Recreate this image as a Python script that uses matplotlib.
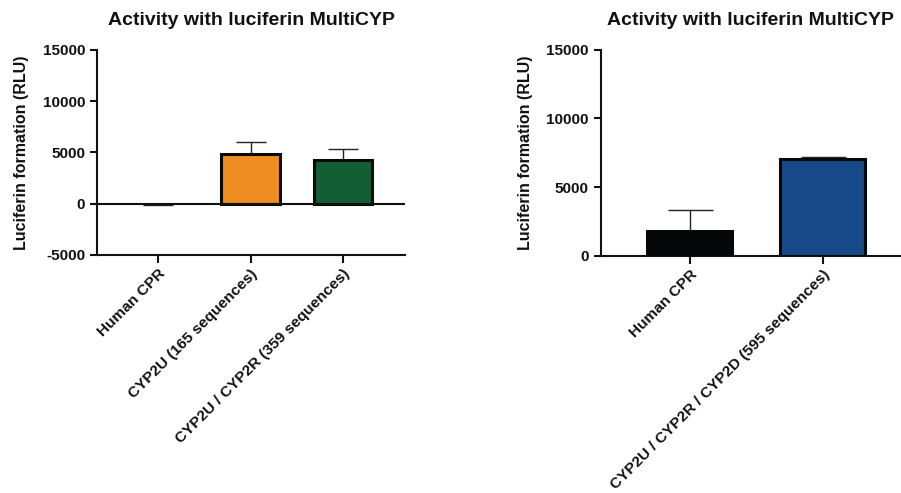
import numpy as np
import matplotlib
matplotlib.use("Agg")
import matplotlib.pyplot as plt

plt.rcParams['font.family'] = ['Liberation Sans', 'DejaVu Sans']
plt.rcParams['font.weight'] = 'bold'
plt.rcParams['axes.unicode_minus'] = False

# ---- data ----
title = "Activity with luciferin MultiCYP"
ylabel = "Luciferin formation (RLU)"

left_labels = ["Human CPR", "CYP2U (165 sequences)", "CYP2U / CYP2R (359 sequences)"]
left_means = [-40, 4850, 4250]
left_err = [60, 1200, 1080]
left_colors = ["#0a0c0c", "#ef8c22", "#135e34"]

right_labels = ["Human CPR", "CYP2U / CYP2R / CYP2D (595 sequences)"]
right_means = [1800, 7020]
right_err = [1530, 140]
right_colors = ["#050808", "#184a89"]

TXT = "#111111"


def style_axes(ax, yticks, ylim):
    for s in ["top", "right"]:
        ax.spines[s].set_visible(False)
    for s in ["left", "bottom"]:
        ax.spines[s].set_linewidth(1.5)
        ax.spines[s].set_color(TXT)
    ax.set_ylim(*ylim)
    ax.set_yticks(yticks)
    ax.tick_params(axis="y", direction="out", length=5, width=1.5,
                   colors=TXT, labelsize=11)
    ax.tick_params(axis="x", direction="out", length=6, width=1.5,
                   colors=TXT, labelsize=11.1, pad=2.5)
    ax.set_title(title, fontsize=14, fontweight="bold", color=TXT, pad=18)
    ax.set_ylabel(ylabel, fontsize=11.5, fontweight="bold", color=TXT, labelpad=10)


fig = plt.figure(figsize=(9.01, 4.93), dpi=100)

# left panel
ax1 = fig.add_axes([0.1077, 0.4828, 0.3418, 0.4158])
x1 = np.arange(len(left_labels))
lw1 = [0 if v < 0 else 2.2 for v in left_means]
ax1.bar(x1, left_means, width=0.63, color=left_colors, edgecolor="#0a0c0c",
        linewidth=lw1, zorder=3)
lower = [e if m < 0 else 0 for m, e in zip(left_means, left_err)]
upper = [0 if m < 0 else e for m, e in zip(left_means, left_err)]
ax1.errorbar(x1, left_means, yerr=[lower, upper], fmt="none", ecolor="#222222",
             elinewidth=1, capsize=10.8, capthick=1, zorder=2)
ax1.axhline(0, color=TXT, linewidth=1.5, zorder=4)
ax1.set_xlim(-0.66, 2.67)
ax1.set_xticks(x1)
ax1.set_xticklabels(left_labels, rotation=45, ha="right", rotation_mode="anchor",
                    fontweight="bold")
style_axes(ax1, [-5000, 0, 5000, 10000, 15000], (-5000, 15000))

# right panel
ax2 = fig.add_axes([0.6667, 0.4813, 0.3333, 0.4180])
x2 = np.arange(len(right_labels))
ax2.bar(x2, right_means, width=0.64, color=right_colors, edgecolor="#050808",
        linewidth=2.2, zorder=3)
ax2.errorbar(x2, right_means, yerr=[[0] * len(right_err), right_err], fmt="none",
             ecolor="#222222", elinewidth=1, capsize=16.2, capthick=1, zorder=2)
ax2.set_xlim(-0.67, 1.59)
ax2.set_xticks(x2)
ax2.set_xticklabels(right_labels, rotation=45, ha="right", rotation_mode="anchor",
                    fontweight="bold")
style_axes(ax2, [0, 5000, 10000, 15000], (0, 15000))

fig.savefig("out.png", dpi=100)
